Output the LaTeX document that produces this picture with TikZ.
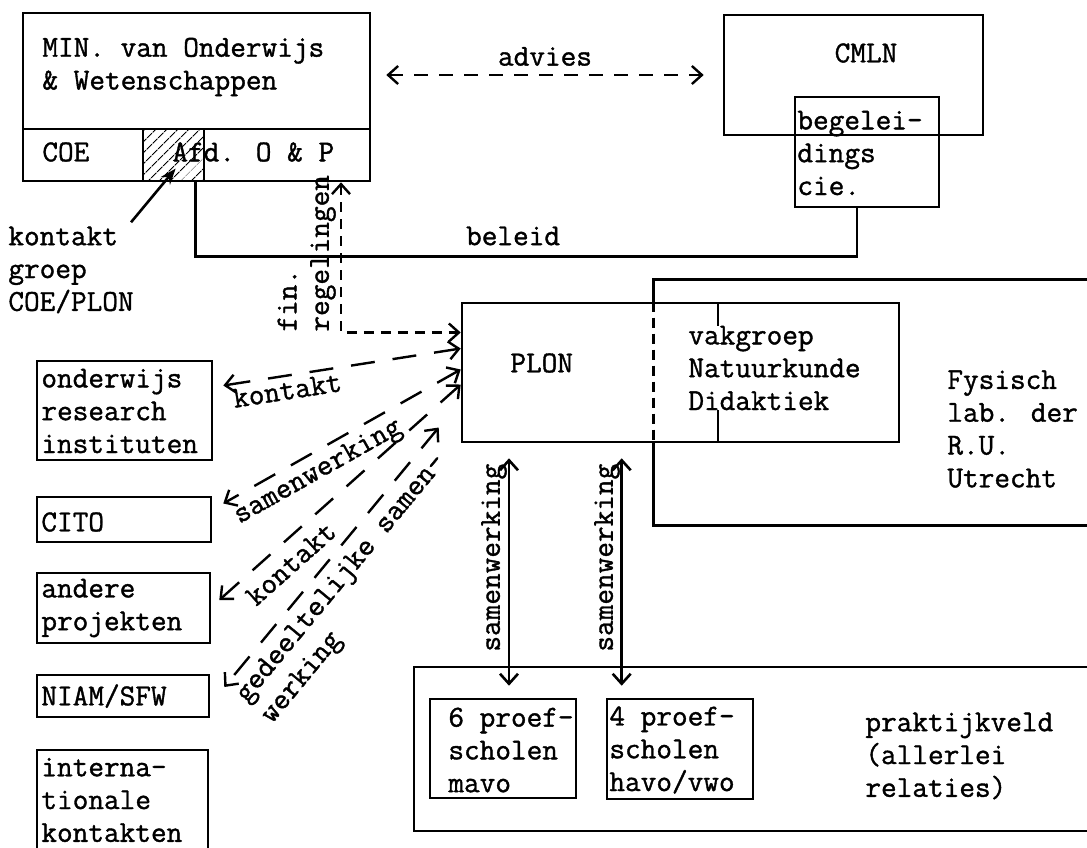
\documentclass[tikz,border=0pt]{standalone}
\usepackage{fontspec}
\usepackage{tikz}
\usetikzlibrary{arrows.meta,positioning,fit,patterns.meta}
\newfontfamily\typefam{Latin Modern Mono}[FakeBold=1.2]
\newcommand{\typewr}{\fontsize{15.2}{16.4}\selectfont\typefam}

\begin{document}
\begin{tikzpicture}[
      x=0.5pt, y=-0.5pt,
      every node/.style={font=\typewr, inner sep=0pt},
      box/.style={draw, line width=1.3pt},
      txt/.style={anchor=west, align=left},
      solidln/.style={line width=1.3pt},
      dblbarb/.style={arrows={Straight Barb[length=5pt,width=9pt]-Straight Barb[length=5pt,width=9pt]}},
      advdash/.style={line width=1.2pt, dash pattern=on 7pt off 5.5pt},
      findash/.style={line width=1.2pt, dash pattern=on 5pt off 3.5pt},
      reldash/.style={line width=1.2pt, dash pattern=on 12pt off 9pt},
      innerdash/.style={line width=1.3pt, dash pattern=on 5pt off 3pt}
  ]
    \useasboundingbox (0,0) rectangle (1087,847);
    \clip (0,0) rectangle (1087,847);

    % ---- Ministerie ----
    \node[box, fit={(23,13) (370,181)}] (min) {};
    \draw[solidln] (23,129) -- (370,129);
    \node[box, fit={(143,129) (204,181)},
          pattern={Lines[angle=45, distance=4pt, line width=0.6pt]}] (hatch) {};
    \node[txt] (mint) at (42,67) {MIN. van Onderwijs\\\& Wetenschappen};
    \node[txt] (coe) at (42,152) {COE};
    \node[txt] (afd) at (172,152) {Afd. O \& P};
    \node[txt] (kgroep) at (8,270) {kontakt\\groep\\COE/PLON};

    % ---- CMLN ----
    \node[box, fit={(724,15) (983,135)}] (cmln) {};
    \node (cmlnt) at (866,53) {CMLN};
    \node[box, fit={(795,97) (939,207)}] (begel) {};
    \node[txt] (begelt) at (797,153) {begelei-\\dings\\cie.};

    % ---- PLON / Fysisch lab ----
    \node[box, fit={(462,303) (899,442)}] (plon) {};
    \node[fit={(654,280) (1110,525)}] (fys) {};
    \draw[solidln] (fys.north east) -- (fys.north west) -- (fys.west |- plon.north);
    \draw[innerdash] (fys.west |- plon.north) -- (fys.west |- plon.south);
    \draw[solidln] (fys.west |- plon.south) -- (fys.south west) -- (fys.south east);
    \draw[solidln] (718,303) -- (718,442);
    \node[txt] (plont) at (510,363) {PLON};
    \node[txt, fill=white] (vakgr) at (688,368) {vakgroep\\Natuurkunde\\Didaktiek};
    \node[txt] (fyst) at (947,429) {Fysisch\\lab. der\\R.U.\\Utrecht};

    % ---- Praktijkveld ----
    \node[box, fit={(414,667) (1110,831)}] (prak) {};
    \node[box, fit={(430,699) (576,798)}] (mavo) {};
    \node[box, fit={(607,699) (753,799)}] (havo) {};
    \node[txt] (mavot) at (448,750) {6 proef-\\scholen\\mavo};
    \node[txt] (havot) at (609,750) {4 proef-\\scholen\\havo/vwo};
    \node[txt] (prakt) at (865,756) {praktijkveld\\(allerlei\\relaties)};

    % ---- Left column ----
    \node[box, fit={(37,361) (212,460)}] (owri) {};
    \node[txt] (owrit) at (41,411) {onderwijs\\research\\instituten};
    \node[box, fit={(37,497) (211,542)}] (cito) {};
    \node[txt] (citot) at (41,522) {CITO};
    \node[box, fit={(37,573) (210,643)}] (andere) {};
    \node[txt] (anderet) at (41,608) {andere\\projekten};
    \node[box, fit={(37,675) (209,717)}] (niam) {};
    \node[txt] (niamt) at (41,696) {NIAM/SFW};
    \node[box, fit={(37,750) (208,870)}] (intl) {};
    \node[txt] (intlt) at (41,800) {interna-\\tionale\\kontakten};

    % Arrows
    \draw[dblbarb, advdash] ([shift={(15,-22)}]min.east) --
          node[above=4pt] (advies) {advies} ([shift={(-19,0)}]cmln.west);
    \draw[solidln] ([shift={(-9,0)}]hatch.south east) -- ++(0,75)
          -| node[pos=0.24, above=5pt] (beleid) {beleid} ([shift={(-10,0)}]begel.south);
    \draw[dblbarb, findash] ([shift={(144.5,0)}]min.south) |- ([shift={(0,-40)}]plon.west);
    \node[rotate=90, anchor=west] (fin) at (287,332) {fin.};
    \node[rotate=90, anchor=west] (regel) at (323,332) {regelingen};
    \draw[-{Stealth[length=8pt,width=6pt]}, solidln]
          ([shift={(-3,-4)}]kgroep.north east) -- ([shift={(-29,-13)}]hatch.south east);

    \draw[dblbarb, reldash] ([shift={(0,-24)}]plon.west) --
          node[sloped, below=2pt, pos=0.74] (kont1) {kontakt} ([shift={(10,-25)}]owri.east);
    \draw[dblbarb, reldash] ([shift={(0,-3)}]plon.west) --
          node[sloped, below=3pt, pos=0.64] (samw) {samenwerking} ([shift={(11,-16)}]cito.east);
    \draw[dblbarb, reldash] ([shift={(0,12)}]plon.west) --
          node[sloped, below=5pt, pos=0.76] (kont2) {kontakt} ([shift={(8,-8)}]andere.east);
    \draw[dblbarb, reldash] ([shift={(-22,55)}]plon.west) --
          node[sloped, below=4pt, pos=0.53, align=left] (gedsw) {gedeeltelijke samen-\\werking}
          ([shift={(14,-9)}]niam.east);

    \draw[dblbarb, solidln, shorten <=6pt, shorten >=7.5pt]
          ([xshift=3pt]mavo.north) -- ([xshift=3pt]mavo.north |- plon.south);
    \draw[dblbarb, solidln, shorten <=6pt, shorten >=7.5pt]
          ([xshift=8pt]havo.north west) -- ([xshift=8pt]havo.north west |- plon.south);
    \node[rotate=90, anchor=west] (samw1) at (494,652) {samenwerking};
    \node[rotate=90, anchor=west] (samw2) at (607,652) {samenwerking};

  \end{tikzpicture}
\end{document}
